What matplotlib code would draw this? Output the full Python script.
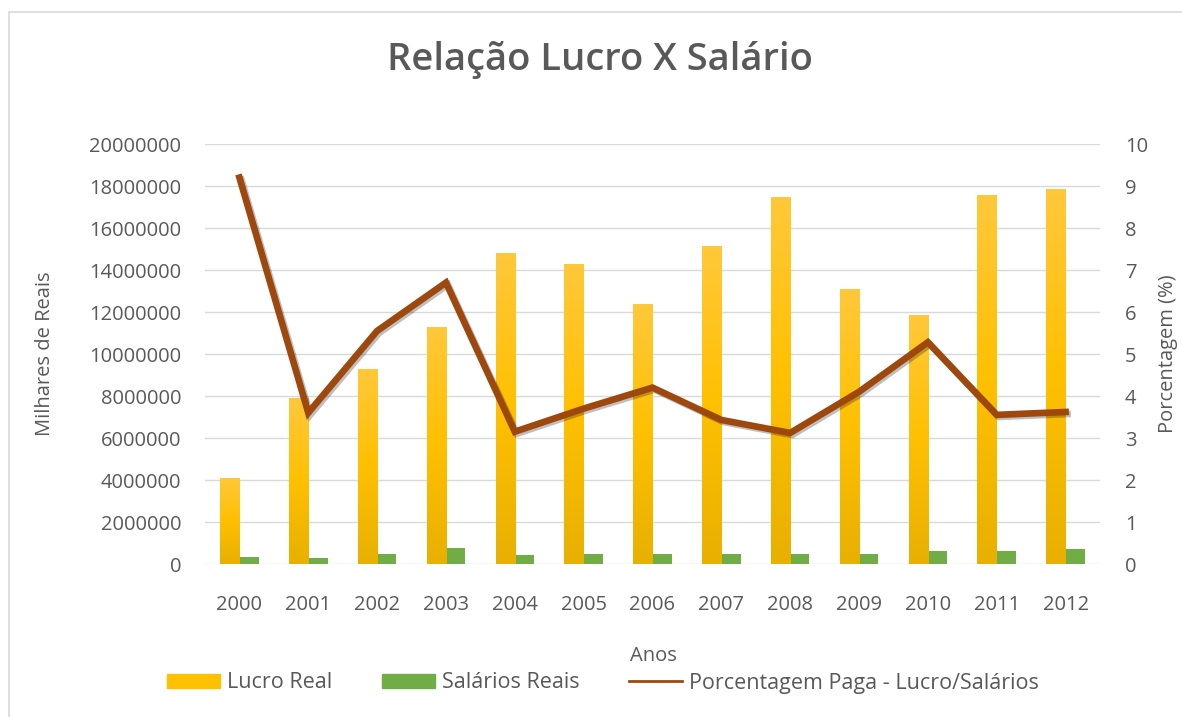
import matplotlib
matplotlib.use('Agg')
import matplotlib.pyplot as plt
import numpy as np
from matplotlib.patches import Patch, Rectangle
from matplotlib.lines import Line2D
import matplotlib.patheffects as pe
from matplotlib.colors import LinearSegmentedColormap

plt.rcParams['font.family'] = ['Open Sans', 'DejaVu Sans']

anos = ['2000', '2001', '2002', '2003', '2004', '2005', '2006',
        '2007', '2008', '2009', '2010', '2011', '2012']
lucro_real = [4100000, 7900000, 9300000, 11300000, 14800000, 14300000, 12400000,
              15150000, 17500000, 13100000, 11850000, 17550000, 17850000]
salarios_reais = [330000, 280000, 500000, 750000, 450000, 500000, 500000,
                  500000, 500000, 500000, 600000, 600000, 700000]
porcentagem = [9.2, 3.6, 5.55, 6.7, 3.15, 3.7, 4.2, 3.43, 3.12, 4.1, 5.28, 3.55, 3.62]

left_ticks = list(range(0, 20000001, 2000000))
right_ticks = list(range(0, 11))

cor_texto = '#595959'
cor_grade = '#D9D9D9'
amarelo = '#FFC000'
verde = '#70AD47'
marrom = '#9E480E'

W, H = 1182, 717
fig = plt.figure(figsize=(W / 100, H / 100), dpi=100)
ax = fig.add_axes([205 / W, 1 - 564 / H, 895 / W, 420 / H])

x = np.arange(len(anos))
bw = 0.28
bars = ax.bar(x - bw / 2, lucro_real, width=bw, color=amarelo, zorder=2)
ax.bar(x + bw / 2, salarios_reais, width=bw, color=verde, zorder=2)

# gradiente nas barras amarelas (estilo Excel)
grad = LinearSegmentedColormap.from_list('g', ['#E8B000', '#FFC000', '#FFC83A'])
for b in bars:
    x0, y0 = b.get_x(), b.get_y()
    img = ax.imshow(np.linspace(0, 1, 100).reshape(-1, 1), cmap=grad, origin='lower',
                    extent=[x0, x0 + b.get_width(), y0, y0 + b.get_height()],
                    aspect='auto', zorder=2.1)
    img.set_clip_path(b)

ax.set_xlim(-0.5, len(anos) - 0.5)
ax.set_ylim(0, 20000000)
ax.set_yticks(left_ticks)
ax.set_yticklabels([str(v) for v in left_ticks])
ax.set_xticks(x)
ax.set_xticklabels(anos)
ax.yaxis.grid(True, color=cor_grade, lw=1)
ax.set_axisbelow(True)
for s in ax.spines.values():
    s.set_visible(False)
ax.tick_params(axis='both', length=0, colors=cor_texto, labelsize=14.5)
ax.tick_params(axis='y', pad=17)
ax.tick_params(axis='x', pad=22)

ax2 = ax.twinx()
ax2.plot(x, porcentagem, color=marrom, lw=4.8, solid_joinstyle='miter', zorder=3,
         path_effects=[pe.SimpleLineShadow(offset=(1.5, -1.5), alpha=0.25), pe.Normal()])
ax2.set_ylim(0, 10)
ax2.set_yticks(right_ticks)
for s in ax2.spines.values():
    s.set_visible(False)
ax2.tick_params(axis='y', length=0, colors=cor_texto, labelsize=14.5, pad=18)

fig.text(600 / W, 1 - 60 / H, 'Relação Lucro X Salário', ha='center', va='center',
         fontsize=27.5, color=cor_texto, fontweight='semibold')
fig.text(45 / W, 1 - 354 / H, 'Milhares de Reais', rotation=90, ha='center', va='center',
         fontsize=14.5, color=cor_texto)
fig.text(1158 / W, 1 - 354 / H, 'Porcentagem (%)', rotation=90, ha='left', va='center',
         fontsize=14.5, color=cor_texto)
fig.text(653 / W, 1 - 656 / H, 'Anos', ha='center', va='center', fontsize=14.5, color=cor_texto)

handles = [Patch(color=amarelo), Patch(color=verde), Line2D([], [], color=marrom, lw=2)]
labels = ['Lucro Real', 'Salários Reais', 'Porcentagem Paga - Lucro/Salários']
fig.legend(handles, labels, loc='center', bbox_to_anchor=(603 / W, 1 - 683 / H), ncol=3,
           frameon=False, fontsize=15.5, labelcolor=cor_texto, handlelength=2.45,
           handleheight=0.65, handletextpad=0.33, columnspacing=2.3)

fig.patches.append(Rectangle((9 / W, -0.02), 1.0, 1 - 12 / H + 0.02, transform=fig.transFigure,
                             fill=False, edgecolor=cor_grade, lw=1.2))

fig.savefig('out.png', dpi=100, facecolor='white')
